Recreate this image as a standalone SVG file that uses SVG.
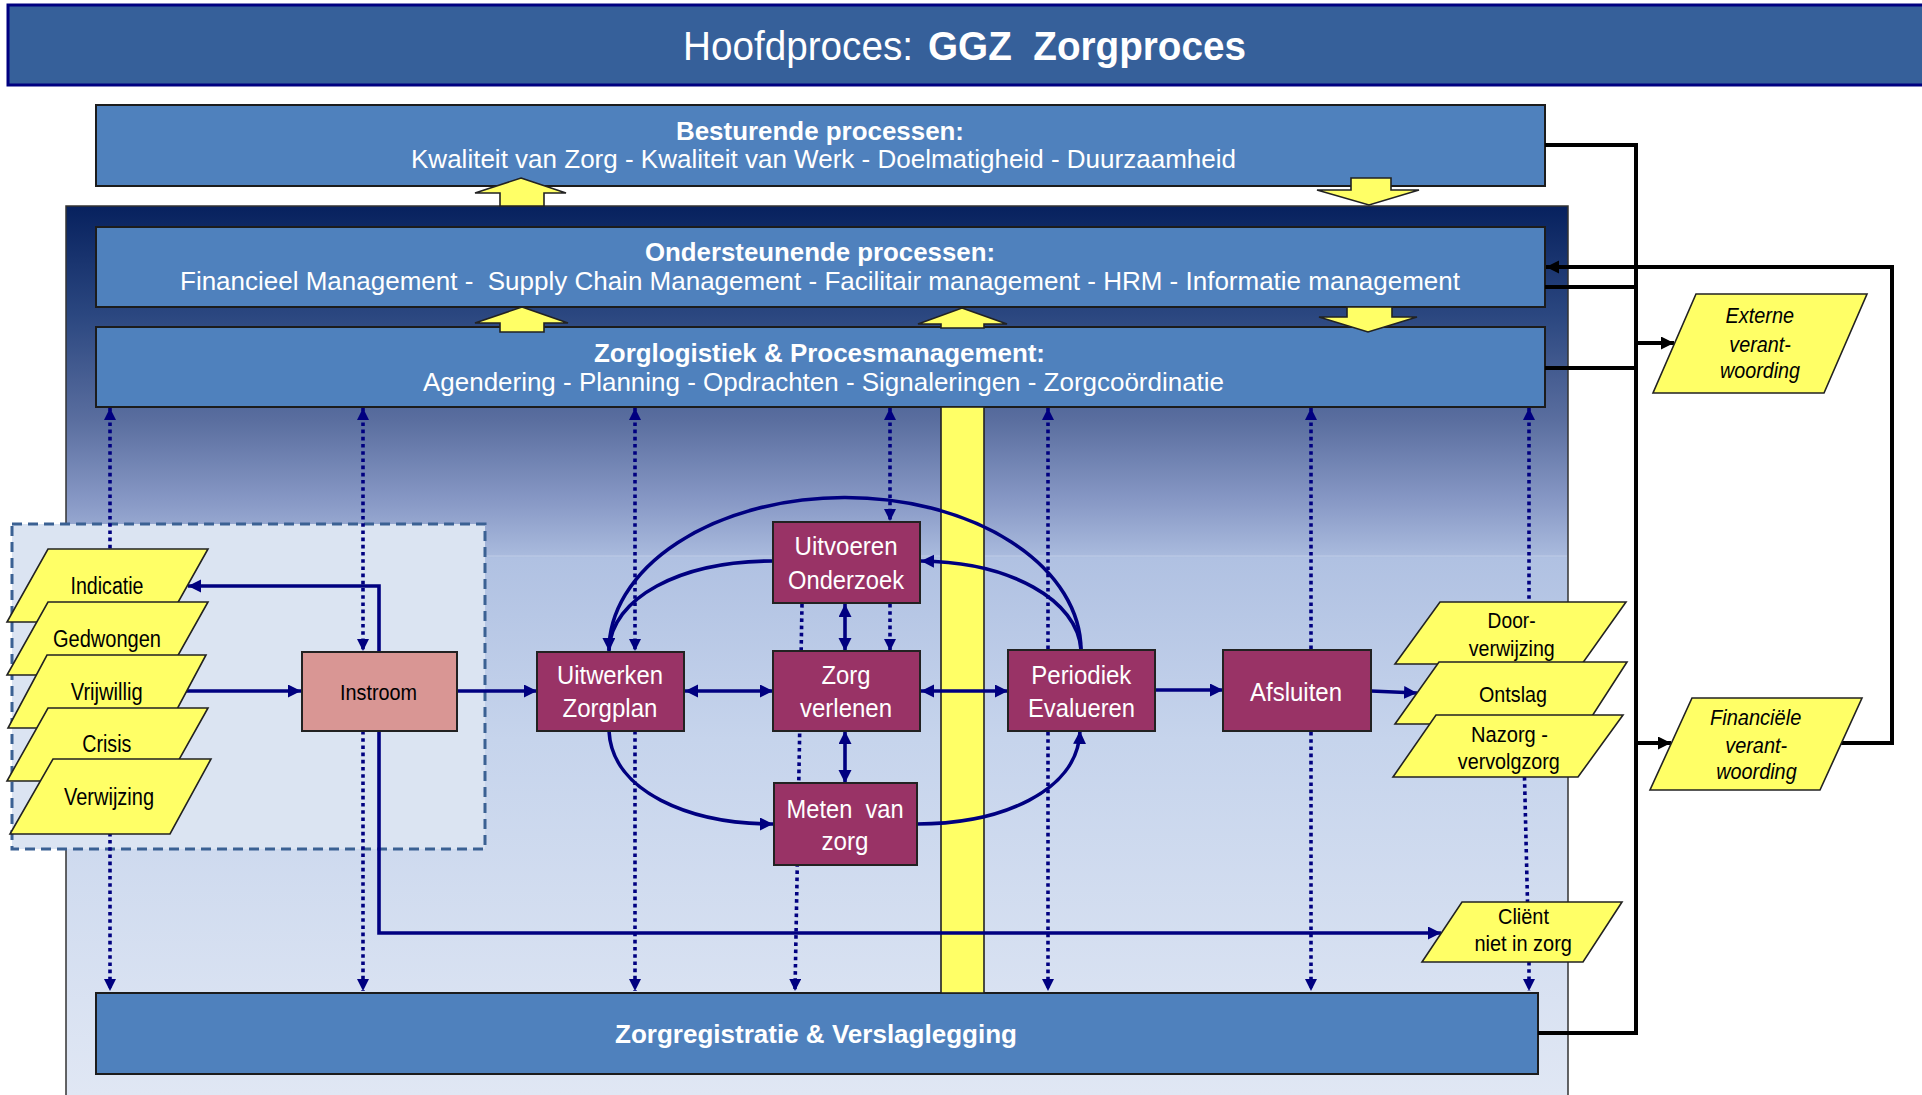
<svg xmlns="http://www.w3.org/2000/svg" width="1922" height="1095" viewBox="0 0 1922 1095">
<defs>
<linearGradient id="bg" gradientUnits="userSpaceOnUse" x1="0" y1="206" x2="0" y2="1095">
<stop offset="0" stop-color="#07215e"/>
<stop offset="0.123" stop-color="#2b4780"/>
<stop offset="0.241" stop-color="#5a6e9f"/>
<stop offset="0.331" stop-color="#8798c5"/>
<stop offset="0.393" stop-color="#a9badd"/>
<stop offset="0.396" stop-color="#b0c1e2"/>
<stop offset="0.6" stop-color="#c6d4ec"/>
<stop offset="1" stop-color="#e0e7f4"/>
</linearGradient>
<marker id="an" markerUnits="userSpaceOnUse" markerWidth="14" markerHeight="14" refX="13" refY="6.5" orient="auto-start-reverse" viewBox="0 0 14 14">
<path d="M0,0 L13,6.5 L0,13 z" fill="#000080"/>
</marker>
<marker id="ad" markerUnits="userSpaceOnUse" markerWidth="12" markerHeight="12" refX="12" refY="6" orient="auto-start-reverse" viewBox="0 0 12 12">
<path d="M0,0 L12,6 L0,12 z" fill="#000080"/>
</marker>
<marker id="ab" markerUnits="userSpaceOnUse" markerWidth="14" markerHeight="14" refX="13" refY="6.5" orient="auto-start-reverse" viewBox="0 0 14 14">
<path d="M0,0 L13,6.5 L0,13 z" fill="#000"/>
</marker>
</defs>
<style>
text{font-family:"Liberation Sans",Arial,sans-serif;white-space:pre}
.bb{fill:#4f81bd;stroke:#1c1c1c;stroke-width:2}
.pr{fill:#993366;stroke:#222;stroke-width:2}
.ins{fill:#d99694;stroke:#222;stroke-width:2}
.pa{fill:#ffff66;stroke:#222;stroke-width:1.6}
.ya{fill:#ffff66;stroke:#222;stroke-width:1.6}
.w{fill:#fff}
.k{fill:#000}
.hb{font-size:26px;font-weight:bold}
.hn{font-size:26px}
.pl{font-size:26px}
.ll{font-size:23px}
.rl{font-size:22px}
.it{font-size:22px;font-style:italic}
.cn{fill:none;stroke:#000080;stroke-width:3.6}
.dt{fill:none;stroke:#000080;stroke-width:3.6;stroke-dasharray:3.6 3.6}
.bl{fill:none;stroke:#000;stroke-width:4}
</style>

<g id="title">
<rect x="8" y="5" width="1920" height="80" fill="#36609a" stroke="#000080" stroke-width="3"/>
<text x="683" y="60" class="w" font-size="40" textLength="230" lengthAdjust="spacingAndGlyphs">Hoofdproces:</text>
<text x="928" y="60" class="w" font-size="40" font-weight="bold" textLength="318" lengthAdjust="spacingAndGlyphs">GGZ  Zorgproces</text>
</g>

<g id="besturende">
<rect x="96" y="105" width="1449" height="81" class="bb"/>
<text x="676" y="140" class="w hb" textLength="288" lengthAdjust="spacingAndGlyphs">Besturende processen:</text>
<text x="411" y="168" class="w hn" textLength="825" lengthAdjust="spacingAndGlyphs">Kwaliteit van Zorg - Kwaliteit van Werk - Doelmatigheid - Duurzaamheid</text>
</g>

<g id="container">
<rect x="66" y="206" width="1502" height="900" fill="url(#bg)" stroke="#333" stroke-width="1.5"/>
<line x1="67" y1="556" x2="1567" y2="556" stroke="#d0dbef" stroke-width="1" opacity="0.6"/>
</g>

<g id="ondersteunende">
<rect x="96" y="227" width="1449" height="80" class="bb"/>
<text x="645" y="261" class="w hb" textLength="350" lengthAdjust="spacingAndGlyphs">Ondersteunende processen:</text>
<text x="180" y="290" class="w hn" textLength="1280" lengthAdjust="spacingAndGlyphs">Financieel Management -  Supply Chain Management - Facilitair management - HRM - Informatie management</text>
</g>

<g id="zorglogistiek">
<rect x="96" y="327" width="1449" height="80" class="bb"/>
<text x="594" y="362" class="w hb" textLength="451" lengthAdjust="spacingAndGlyphs">Zorglogistiek &amp; Procesmanagement:</text>
<text x="423" y="391" class="w hn" textLength="801" lengthAdjust="spacingAndGlyphs">Agendering - Planning - Opdrachten - Signaleringen - Zorgcoördinatie</text>
</g>

<g id="zorgregistratie">
<rect x="96" y="993" width="1442" height="81" class="bb"/>
<text x="615" y="1043" class="w hb" textLength="402" lengthAdjust="spacingAndGlyphs">Zorgregistratie &amp; Verslaglegging</text>
</g>

<g id="instroom-zone">
<rect x="12" y="524" width="473" height="325" fill="#dbe4f2" stroke="#3b6193" stroke-width="3" stroke-dasharray="10 6"/>
</g>

<g id="yellow-bar">
<rect x="941" y="407" width="43" height="586" fill="#ffff66" stroke="#222" stroke-width="1.6"/>
</g>

<g id="connectors">
<path class="dt" d="M110,408 V991" marker-start="url(#ad)" marker-end="url(#ad)"/>
<path class="dt" d="M363,408 V651" marker-start="url(#ad)" marker-end="url(#ad)"/>
<path class="dt" d="M363,731 V991" marker-end="url(#ad)"/>
<path class="dt" d="M635,408 V651" marker-start="url(#ad)" marker-end="url(#ad)"/>
<path class="dt" d="M635,731 V991" marker-end="url(#ad)"/>
<path class="dt" d="M890,408 V521" marker-start="url(#ad)" marker-end="url(#ad)"/>
<path class="dt" d="M890,604 V651" marker-end="url(#ad)"/>
<path class="dt" d="M802,604 L795,991" marker-end="url(#ad)"/>
<path class="dt" d="M1048,408 V991" marker-start="url(#ad)" marker-end="url(#ad)"/>
<path class="dt" d="M1311,408 V991" marker-start="url(#ad)" marker-end="url(#ad)"/>
<path class="dt" d="M1529,408 V603" marker-start="url(#ad)"/>
<path class="dt" d="M1524.5,777 L1527.5,902"/>
<path class="dt" d="M1529,962 V991" marker-end="url(#ad)"/>
<path class="cn" d="M186,691 H301" marker-end="url(#an)"/>
<path class="cn" d="M379,651 V586 H188" marker-end="url(#an)"/>
<path class="cn" d="M457,691 H537" marker-end="url(#an)"/>
<path class="cn" d="M685,691 H773" marker-start="url(#an)" marker-end="url(#an)"/>
<path class="cn" d="M921,691 H1008" marker-start="url(#an)" marker-end="url(#an)"/>
<path class="cn" d="M1155,690 H1223" marker-end="url(#an)"/>
<path class="cn" d="M1371,691 L1417,693" marker-end="url(#an)"/>
<path class="cn" d="M845,604 V651" marker-start="url(#an)" marker-end="url(#an)"/>
<path class="cn" d="M845,731 V783" marker-start="url(#an)" marker-end="url(#an)"/>
<path class="cn" d="M379,731 V933 H1441" marker-end="url(#an)"/>
<path class="cn" d="M1081,650 A236,153 0 0 0 609,651" marker-end="url(#an)"/>
<path class="cn" d="M773,561 C680,561 611,598 609,650"/>
<path class="cn" d="M1081,650 C1078,600 1010,562 921,561" marker-end="url(#an)"/>
<path class="cn" d="M609,731 C612,792 690,824 773,824" marker-end="url(#an)"/>
<path class="cn" d="M917,824 C1000,824 1078,792 1080,731" marker-end="url(#an)"/>
<polygon class="ya" points="521,178 566,193 544,193 544,206 500,206 500,193 475,193"/>
<polygon class="ya" points="1351,178 1391,178 1391,190 1419,190 1369,205 1317,190 1351,190"/>
<polygon class="ya" points="522,307 568,323 544,323 544,332 500,332 500,323 475,323"/>
<polygon class="ya" points="962,308 1007,324 984,324 984,328 941,328 941,324 918,324"/>
<polygon class="ya" points="1347,307 1392,307 1392,317 1417,317 1368,332 1319,317 1347,317"/>
<path class="bl" d="M1545,145 H1636 V1033 H1538"/>
<path class="bl" d="M1545,287 H1636"/>
<path class="bl" d="M1545,368 H1636"/>
<path class="bl" d="M1636,343 H1674" marker-end="url(#ab)"/>
<path class="bl" d="M1636,743 H1671" marker-end="url(#ab)"/>
<path class="bl" d="M1840,743 H1892 V267 H1546" marker-end="url(#ab)"/>
</g>

<g id="indicatie">
<polygon class="pa" points="48,549 208,549 167,622 7,622"/>
<text x="70.5" y="594" class="k ll" textLength="73" lengthAdjust="spacingAndGlyphs">Indicatie</text>
</g>
<g id="gedwongen">
<polygon class="pa" points="48,602 208,602 167,675 7,675"/>
<text x="53" y="647" class="k ll" textLength="108" lengthAdjust="spacingAndGlyphs">Gedwongen</text>
</g>
<g id="vrijwillig">
<polygon class="pa" points="47,655 206,655 167,728 8,728"/>
<text x="70.7" y="700" class="k ll" textLength="72" lengthAdjust="spacingAndGlyphs">Vrijwillig</text>
</g>
<g id="crisis">
<polygon class="pa" points="48,708 208,708 167,781 7,781"/>
<text x="82.3" y="752" class="k ll" textLength="49" lengthAdjust="spacingAndGlyphs">Crisis</text>
</g>
<g id="verwijzing">
<polygon class="pa" points="53,759 211,759 170,834 10,834"/>
<text x="64" y="805" class="k ll" textLength="90" lengthAdjust="spacingAndGlyphs">Verwijzing</text>
</g>

<g id="instroom">
<rect x="302" y="652" width="155" height="79" class="ins"/>
<text x="340" y="700" class="k" font-size="22" textLength="77" lengthAdjust="spacingAndGlyphs">Instroom</text>
</g>

<g id="uitwerken-zorgplan">
<rect x="537" y="652" width="147" height="79" class="pr"/>
<text x="557" y="684" class="w pl" textLength="106" lengthAdjust="spacingAndGlyphs">Uitwerken</text>
<text x="562.5" y="717" class="w pl" textLength="95" lengthAdjust="spacingAndGlyphs">Zorgplan</text>
</g>

<g id="uitvoeren-onderzoek">
<rect x="773" y="522" width="147" height="81" class="pr"/>
<text x="794.6" y="555" class="w pl" textLength="103" lengthAdjust="spacingAndGlyphs">Uitvoeren</text>
<text x="788" y="589" class="w pl" textLength="116" lengthAdjust="spacingAndGlyphs">Onderzoek</text>
</g>

<g id="zorg-verlenen">
<rect x="773" y="651" width="147" height="80" class="pr"/>
<text x="821.4" y="684" class="w pl" textLength="49" lengthAdjust="spacingAndGlyphs">Zorg</text>
<text x="800" y="717" class="w pl" textLength="92" lengthAdjust="spacingAndGlyphs">verlenen</text>
</g>

<g id="meten-van-zorg">
<rect x="774" y="783" width="143" height="82" class="pr"/>
<text x="786.6" y="818" class="w pl" textLength="117" lengthAdjust="spacingAndGlyphs">Meten  van</text>
<text x="821.4" y="850" class="w pl" textLength="47" lengthAdjust="spacingAndGlyphs">zorg</text>
</g>

<g id="periodiek-evalueren">
<rect x="1008" y="650" width="147" height="81" class="pr"/>
<text x="1031.3" y="684" class="w pl" textLength="100" lengthAdjust="spacingAndGlyphs">Periodiek</text>
<text x="1028" y="717" class="w pl" textLength="107" lengthAdjust="spacingAndGlyphs">Evalueren</text>
</g>

<g id="afsluiten">
<rect x="1223" y="650" width="148" height="81" class="pr"/>
<text x="1250" y="701" class="w pl" textLength="92" lengthAdjust="spacingAndGlyphs">Afsluiten</text>
</g>

<g id="doorverwijzing">
<polygon class="pa" points="1440,602 1626,602 1582,664 1395,664"/>
<text x="1487.6" y="628" class="k rl" textLength="48" lengthAdjust="spacingAndGlyphs">Door-</text>
<text x="1468.7" y="656" class="k rl" textLength="86" lengthAdjust="spacingAndGlyphs">verwijzing</text>
</g>
<g id="ontslag">
<polygon class="pa" points="1439,662 1627,662 1587,724 1395,724"/>
<text x="1479" y="702" class="k rl" textLength="68" lengthAdjust="spacingAndGlyphs">Ontslag</text>
</g>
<g id="nazorg">
<polygon class="pa" points="1436,715 1623,715 1578,777 1393,777"/>
<text x="1471" y="742" class="k rl" textLength="77" lengthAdjust="spacingAndGlyphs">Nazorg -</text>
<text x="1457.8" y="769" class="k rl" textLength="102" lengthAdjust="spacingAndGlyphs">vervolgzorg</text>
</g>
<g id="client-niet-in-zorg">
<polygon class="pa" points="1462,902 1622,902 1583,962 1422,962"/>
<text x="1498" y="924" class="k rl" textLength="51" lengthAdjust="spacingAndGlyphs">Cliënt</text>
<text x="1474.4" y="951" class="k rl" textLength="97.5" lengthAdjust="spacingAndGlyphs">niet in zorg</text>
</g>

<g id="externe-verantwoording">
<polygon class="pa" points="1696,294 1867,294 1824,393 1653,393"/>
<text x="1725.6" y="323" class="k it" textLength="68.5" lengthAdjust="spacingAndGlyphs">Externe</text>
<text x="1729.3" y="352" class="k it" textLength="61.5" lengthAdjust="spacingAndGlyphs">verant-</text>
<text x="1720" y="378" class="k it" textLength="80" lengthAdjust="spacingAndGlyphs">woording</text>
</g>

<g id="financiele-verantwoording">
<polygon class="pa" points="1692,698 1862,698 1820,790 1650,790"/>
<text x="1710" y="725" class="k it" textLength="91.3" lengthAdjust="spacingAndGlyphs">Financiële</text>
<text x="1725.2" y="753" class="k it" textLength="62" lengthAdjust="spacingAndGlyphs">verant-</text>
<text x="1716.2" y="779" class="k it" textLength="80.5" lengthAdjust="spacingAndGlyphs">woording</text>
</g>
</svg>
